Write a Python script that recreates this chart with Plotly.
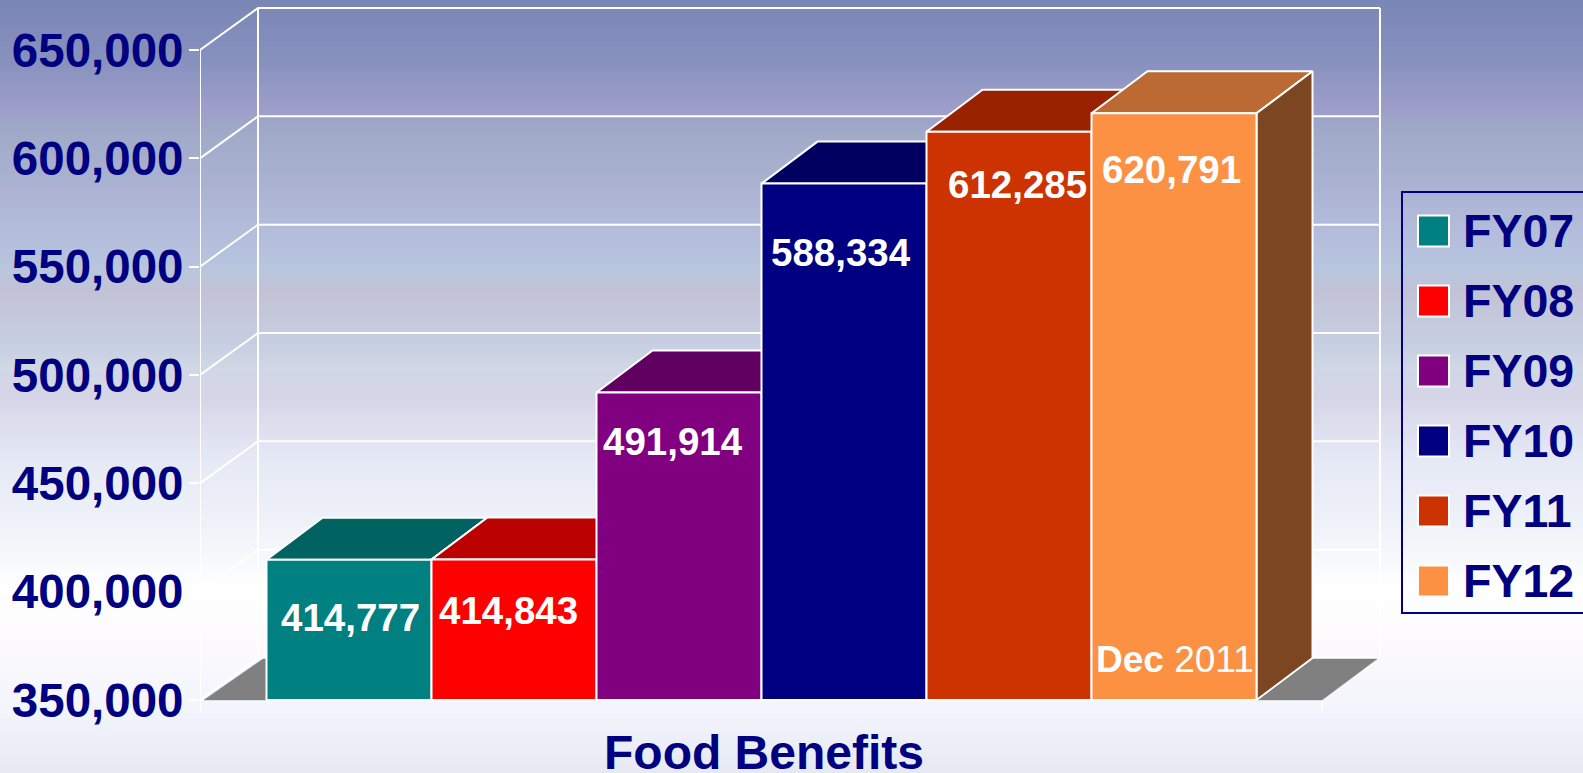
import plotly.graph_objects as go

W, H = 1583, 773
FONT = "Liberation Sans"
NAVY = "#000080"

categories = ["FY07", "FY08", "FY09", "FY10", "FY11", "FY12"]
values = [414777, 414843, 491914, 588334, 612285, 620791]
value_labels = ["414,777", "414,843", "491,914", "588,334", "612,285", "620,791"]
front_colors = ["#008080", "#FF0000", "#800080", "#000080", "#CC3300", "#FC9144"]
top_colors = ["#006361", "#BB0000", "#600060", "#000060", "#992200", "#BB6A33"]
side_color = "#7D4622"
# how far each label sits under the top of its bar, and sideways, in px
label_drop = [58, 51, 49, 69, 53, 56]
label_shift = [1, -6, -6, -3, 8, -3]

tick_vals = [350000, 400000, 450000, 500000, 550000, 600000, 650000]
tick_text = ["350,000", "400,000", "450,000", "500,000", "550,000", "600,000", "650,000"]

# page background, top to bottom
bg_y = [0, 60, 105, 130, 190, 225, 270, 290, 350, 365, 397, 463, 520, 590, 650, 710, 773]
bg_colors = ["#7A86B5", "#8791BE", "#9C9DC9", "#9FA9C8", "#ACB3D2", "#B3BBDB", "#B8C6DE", "#C2C2D6",
             "#C8D0E3", "#CFD7E5", "#D6D5E8", "#E6EAF6", "#EEF1F8", "#FFFFFF", "#FBF9FD", "#F2F5FC", "#E6E9F2"]

# scales: the plot axes run over the whole page height and from x=200 to the right
px_per_bar = 165.0
px_per_val = 650 / 300000
bar0_px = 266.5


def xu(px):
    return (px - bar0_px) / px_per_bar


def vu(px):
    return px / px_per_val


fig = go.Figure()

# background
fig.add_trace(go.Heatmap(z=[[p, p] for p in range(0, H + 1)], x=[0, 1], y=list(range(0, H + 1)),
                         colorscale=[[y / H, c] for y, c in zip(bg_y, bg_colors)],
                         showscale=False, hoverinfo="skip", xaxis="x", yaxis="y"))


def line(xs, ys, width=2, color="white"):
    fig.add_trace(go.Scatter(x=xs, y=ys, mode="lines", line=dict(color=color, width=width),
                             showlegend=False, hoverinfo="skip", xaxis="x2", yaxis="y2"))


def poly(xs, ys, fill, edge="white", width=2):
    fig.add_trace(go.Scatter(x=xs + xs[:1], y=ys + ys[:1], mode="lines", fill="toself", fillcolor=fill,
                             line=dict(color=edge, width=width), showlegend=False,
                             hoverinfo="skip", xaxis="x2", yaxis="y2"))


# walls
front_l, back_l, front_r, back_r = xu(200), xu(258), xu(1322), xu(1380)
wall_dy = vu(42)
for v in tick_vals:
    line([front_l, back_l, back_r], [v, v + wall_dy, v + wall_dy])
low = tick_vals[0]
high = tick_vals[-1]
line([front_l, front_l], [low - vu(11), high])
line([back_l, back_l], [low + wall_dy, high + wall_dy])
line([back_r, back_r], [low + wall_dy, high + wall_dy])
line([front_l, front_r], [low, low])
line([front_r, front_r], [low - vu(11), low])

# floor
poly([xu(204), xu(263), xu(1377), xu(1322)], [low, low + vu(41), low + vu(41), low], "#808080", edge="#808080", width=0.5)

# bars, left to right so each one hides what is behind it
dx = xu(56) - xu(0)
dv = vu(42)
for i, v in enumerate(values):
    l, r = i, i + 1
    poly([l, l + dx, r + dx, r], [v, v + dv, v + dv, v], top_colors[i])
    poly([r, r + dx, r + dx, r], [v, v + dv, low + dv, low], side_color)
    poly([l, r, r, l], [low, low, v, v], front_colors[i])

# value labels
annotations = []
for i, v in enumerate(values):
    annotations.append(dict(x=i + 0.5, y=v, xref="x2", yref="y2", text="<b>" + value_labels[i] + "</b>", showarrow=False,
                            xshift=label_shift[i], yshift=-label_drop[i],
                            font=dict(family=FONT, size=38.5, color="white"), yanchor="middle"))

annotations.append(dict(x=5.5, y=low, xref="x2", yref="y2", text="<b>Dec</b> 2011", showarrow=False,
                        xshift=1, yshift=41, font=dict(family=FONT, size=37, color="white")))
annotations.append(dict(x=764 / W, y=1 - 752 / H, xref="paper", yref="paper", text="<b>Food Benefits</b>",
                        showarrow=False, xanchor="center", yanchor="middle",
                        font=dict(family=FONT, size=48, color=NAVY)))

# legend box
shapes = [dict(type="rect", xref="paper", yref="paper", x0=1402 / W, x1=1590 / W, y0=1 - 613 / H, y1=1 - 192 / H,
               line=dict(color=NAVY, width=2), fillcolor="rgba(0,0,0,0)")]
legend_y = [231, 301, 371, 441, 511, 581]
for name, c, ly in zip(categories, front_colors, legend_y):
    shapes.append(dict(type="rect", xref="paper", yref="paper", x0=1418 / W, x1=1449 / W,
                       y0=1 - (ly + 15.5) / H, y1=1 - (ly - 15.5) / H, fillcolor=c, line=dict(color="white", width=2)))
    annotations.append(dict(x=1461 / W, y=1 - ly / H, xref="paper", yref="paper", text="<b>" + name + "</b>",
                            showarrow=False, xanchor="left", yanchor="middle",
                            font=dict(family=FONT, size=46.5, color=NAVY)))

fig.update_layout(
    width=W, height=H, autosize=False,
    margin=dict(l=0, r=0, t=0, b=0),
    paper_bgcolor="white",
    plot_bgcolor="rgba(0,0,0,0)",
    showlegend=False,
    xaxis=dict(domain=[0, 1], range=[0, 1], visible=False, fixedrange=True),
    yaxis=dict(domain=[0, 1], range=[H, 0], visible=False, fixedrange=True),
    xaxis2=dict(domain=[200 / W, 1], range=[xu(200), xu(W)], visible=False, anchor="y2", fixedrange=True),
    yaxis2=dict(domain=[0, 1], range=[low - vu(73), high + vu(50)], anchor="x2", side="left", fixedrange=True,
                tickmode="array", tickvals=tick_vals, ticktext=tick_text,
                ticks="outside", ticklen=10, tickwidth=2, tickcolor="white",
                ticklabelstandoff=-4, showgrid=False, zeroline=False, showline=False,
                tickfont=dict(family=FONT, size=47.5, color=NAVY, weight="bold")),
    shapes=shapes,
    annotations=annotations,
)

fig.write_html("out.html", config={"displayModeBar": False},
               post_script="document.body.style.margin='0';document.body.style.overflow='hidden';")
